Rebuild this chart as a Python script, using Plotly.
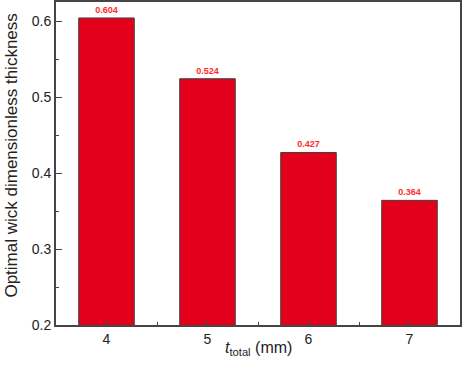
import plotly.graph_objects as go

t_total = [4, 5, 6, 7]
thickness = [0.604, 0.524, 0.427, 0.364]
labels = ["0.604", "0.524", "0.427", "0.364"]

font_family = "Arial, Liberation Sans"

fig = go.Figure()
fig.add_trace(go.Bar(
    x=t_total, y=thickness, width=0.55,
    marker=dict(color="#e3001b", line=dict(color="#404040", width=1)),
    text=labels, textposition="outside", cliponaxis=False,
    textfont=dict(color="#ff2a2a", size=9, family=font_family, weight="bold"),
))

axis_common = dict(
    showline=True, mirror=True, linecolor="#454545", linewidth=1.8,
    ticks="inside", ticklen=6, tickcolor="#454545", showgrid=False, zeroline=False,
    tickfont=dict(family=font_family, size=14, color="#222"),
)
fig.update_xaxes(
    range=[3.5, 7.5], tickvals=t_total, **axis_common,
    minor=dict(dtick=0.5, ticks="inside", ticklen=3, tickcolor="#454545"),
)
fig.update_yaxes(
    range=[0.2, 0.625], dtick=0.1, tickformat=".1f", **axis_common,
    minor=dict(dtick=0.05, ticks="inside", ticklen=3, tickcolor="#454545"),
)

# axis titles as annotations for exact placement
fig.add_annotation(
    text="<i>t</i><sub>total</sub> (mm)", xref="paper", yref="paper",
    x=0.5, y=-0.074, xanchor="center", yanchor="middle", showarrow=False,
    font=dict(family=font_family, size=16, color="#222"),
)
fig.add_annotation(
    text="Optimal wick dimensionless thickness", xref="paper", yref="paper",
    x=-0.111, y=0.525, xanchor="center", yanchor="middle", textangle=-90,
    showarrow=False, font=dict(family=font_family, size=17, color="#222"),
)

fig.update_layout(
    width=464, height=369, margin=dict(l=56, r=4, t=2, b=44, autoexpand=False),
    plot_bgcolor="white", paper_bgcolor="white", showlegend=False,
)
fig.write_html("out.html", config={"displayModeBar": False},
               post_script="document.body.style.margin='0';")
